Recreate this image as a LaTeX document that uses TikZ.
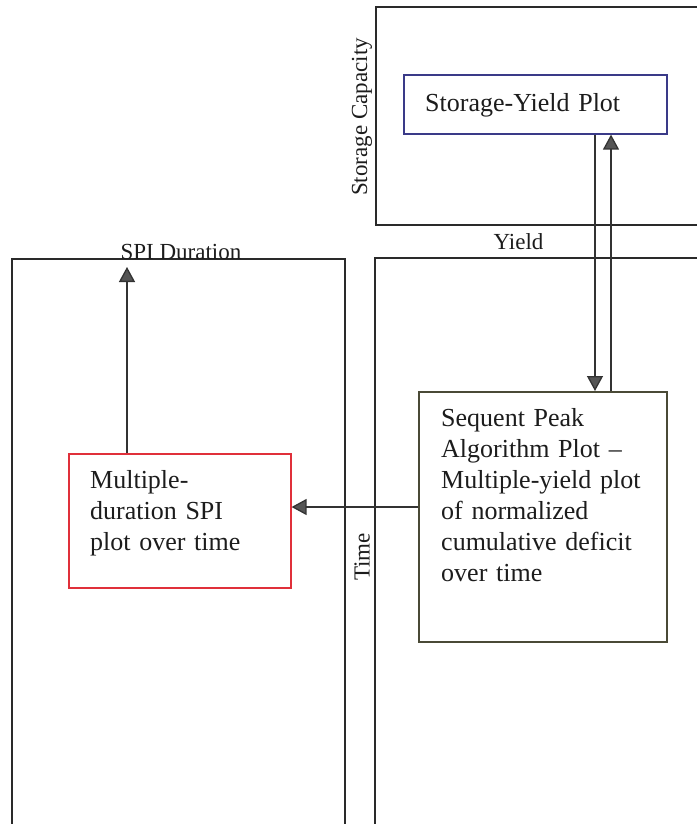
\documentclass[tikz,border=0pt]{standalone}
\usepackage{fontspec}
\setmainfont{Liberation Serif}
\usetikzlibrary{arrows.meta}

\definecolor{ink}{HTML}{1C1C1C}
\definecolor{framegray}{HTML}{2A2A2A}
\definecolor{linkgray}{HTML}{333333}
\definecolor{headgray}{HTML}{555555}
\definecolor{navyedge}{HTML}{3A3A88}
\definecolor{rededge}{HTML}{E0303A}
\definecolor{oliveedge}{HTML}{4A4A36}

\begin{document}
\begin{tikzpicture}[x=1pt, y=-1pt,
  panel/.style={draw=framegray, line width=1.3pt},
  plotbox/.style={draw, line width=1.6pt, inner sep=0pt, anchor=north west},
  boxtext/.style={anchor=base west, inner sep=0pt, align=left, text width=230pt,
    font=\fontsize{26}{31}\selectfont, text=ink},
  axislabel/.style={inner sep=0pt, font=\fontsize{23}{27}\selectfont, text=ink},
  link/.style={draw=linkgray, line width=1.3pt,
    -{Triangle[length=15pt, width=16pt, fill=headgray]}}]

\useasboundingbox (0,0) rectangle (696,824);

% open plot frames (they run past the page edges)
\draw[panel] (700,7) -- (376,7) -- (376,225) -- (700,225);
\draw[panel] (700,258) -- (375,258) -- (375,830);
\draw[panel] (12,830) -- (12,259) -- (345,259) -- (345,830);

% axis labels
\node[axislabel, rotate=90] (capacity) at (362,117) {Storage Capacity};
\node[axislabel] (yield) at (518.5,241.5) {Yield};
\node[axislabel, anchor=base] (duration) at (181,259.5) {SPI Duration};
\node[axislabel, rotate=90] (time) at (362,557) {Time};

% plot boxes
\node[plotbox, draw=navyedge, minimum width=263pt, minimum height=59pt] (sy) at (403,74) {};
\node[boxtext] (sytext) at (425,112) {Storage-Yield Plot};

\node[plotbox, draw=rededge, minimum width=222pt, minimum height=134pt] (spi) at (68,453) {};
\node[boxtext] (spitext) at (90,488) {Multiple-\\duration SPI\\plot over time};

\node[plotbox, draw=oliveedge, minimum width=248pt, minimum height=250pt] (seq) at (418,391) {};
\node[boxtext] (seqtext) at (441,426) {Sequent Peak\\Algorithm Plot --\\Multiple-yield plot\\of normalized\\cumulative deficit\\over time};

% connector guide positions
\coordinate (downx) at (595,0);
\coordinate (upx) at (611,0);
\coordinate (spix) at (127,0);
\coordinate (spitip) at (127,267);
\coordinate (linky) at (0,507);

% connectors
\draw[link] (sy.south -| downx) -- (seq.north -| downx);
\draw[link] (seq.north -| upx) -- (sy.south -| upx);
\draw[link] (spi.north -| spix) -- (spitip);
\draw[link] (seq.west |- linky) -- (spi.east |- linky);
\end{tikzpicture}
\end{document}
